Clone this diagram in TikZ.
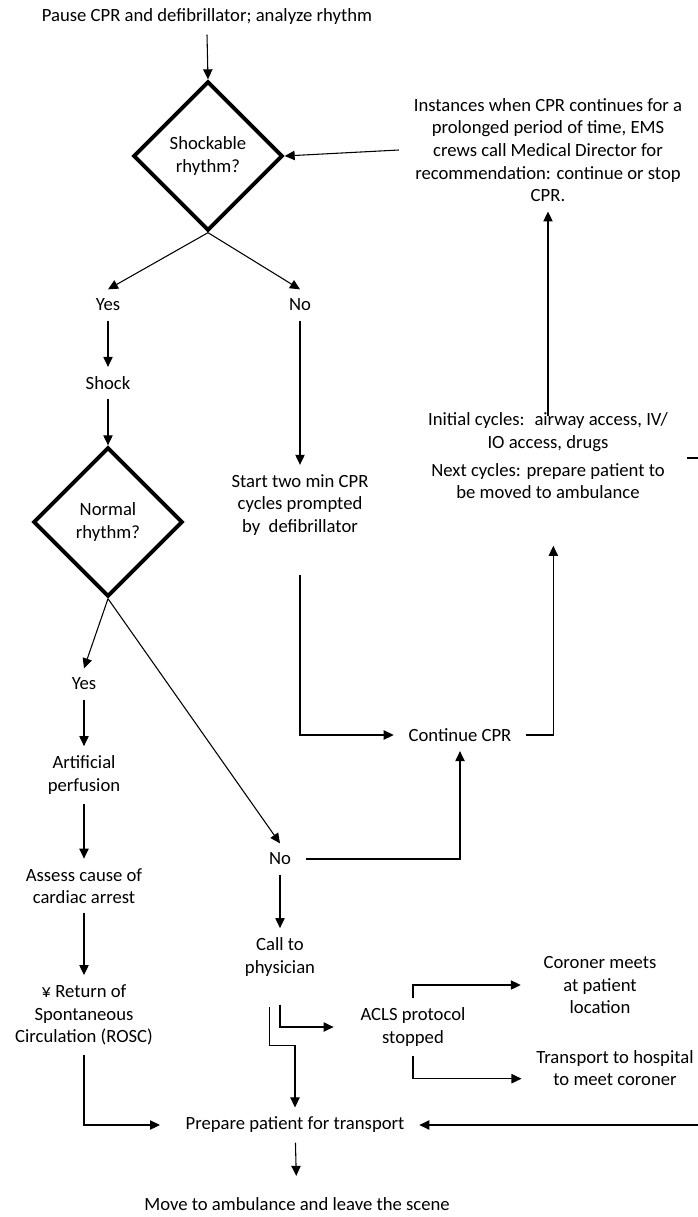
\documentclass[tikz,border=0pt]{standalone}
\usepackage{fontspec}
\setmainfont{Carlito}
\usetikzlibrary{arrows.meta,shapes.geometric}

\begin{document}
\begin{tikzpicture}[x=0.75pt, y=-0.75pt,
  every node/.style={font=\fontsize{14}{17}\selectfont},
  txt/.style={align=center, inner xsep=11pt, inner ysep=7pt},
  decision/.style={diamond, draw, line width=3pt, aspect=1, inner sep=0pt,
    minimum width=112pt, minimum height=112pt, align=center},
  arr/.style={-{Triangle[length=7.5pt,width=7pt]}, line width=0.8pt}]
  \useasboundingbox (0,0) rectangle (698,1217);

  % rhythm check
  \node[txt] (pause) at (207,17) {Pause CPR and defibrillator; analyze rhythm};
  \node[decision] (shockable) at (208,156) {Shockable\\rhythm?};
  \node[txt] (director) at (548,150) {Instances when CPR continues for a\\prolonged period of time, EMS\\crews call Medical Director for\\recommendation: continue or stop\\CPR.};
  \node[txt] (yesA) at (108,305) {Yes};
  \node[txt] (noA) at (300,305) {No};
  \node[txt] (shock) at (108,383) {Shock};
  \node[decision] (normal) at (108,522) {Normal\\rhythm?};
  \node[txt] (cycles) at (300,505) {Start two min CPR\\cycles prompted\\by \ defibrillator};

  % CPR loop
  \node[txt] (initial) at (548,432) {Initial cycles: \ airway access, IV/\\IO access, drugs};
  \node[txt] (next) at (548,481) {Next cycles: prepare patient to\\be moved to ambulance};
  \node[txt] (continue) at (460,735) {Continue CPR};

  % after the shock
  \node[txt] (yesB) at (84,684) {Yes};
  \node[txt] (perfusion) at (84,775) {Artificial\\perfusion};
  \node[txt] (assess) at (84,886) {Assess cause of\\cardiac arrest};
  \node[txt] (rosc) at (84,1015) {¥ Return of\\Spontaneous\\Circulation (ROSC)};
  \node[txt] (noB) at (280,859) {No};
  \node[txt] (physician) at (280,957) {Call to\\physician};
  \node[txt] (acls) at (413,1027) {ACLS protocol\\stopped};
  \node[txt] (coroner) at (600,985) {Coroner meets\\at patient\\location};
  \node[txt] (hospital) at (615,1068) {Transport to hospital\\to meet coroner};
  \node[txt] (prepare) at (295,1125) {Prepare patient for transport};
  \node[txt] (leave) at (297,1204) {Move to ambulance and leave the scene};
  \coordinate (offA) at (687,458);
  \coordinate (offB) at (698,458);
  \coordinate (offC) at (698,1125);

  \draw[arr] (pause.south) -- (shockable.north);
  \draw[arr] (director.west) -- (shockable.east);
  \draw[arr] (shockable.south) -- (yesA.north);
  \draw[arr] (shockable.south) -- (noA.north);
  \draw[arr] (yesA) -- (shock);
  \draw[arr] (shock) -- (normal);
  \draw[arr] (noA) -- (cycles);
  \draw[arr, shorten <=22pt] (cycles.south) |- (continue.west);
  \draw[arr, shorten >=28pt] (continue.east) -| ([xshift=4pt]next.south);
  \draw[arr, shorten <=-10pt] (initial.north) -- (director.south);
  \draw[arr] (noB.east) -| (continue.south);

  \draw[arr] (normal.south) -- (yesB.north);
  \draw[arr] (normal.south) -- (noB.north);
  \draw[arr] (yesB) -- (perfusion);
  \draw[arr] (perfusion) -- (assess);
  \draw[arr] (assess) -- (rosc);
  \draw[arr, shorten >=8pt] (rosc.south) |- (prepare.west);
  \draw[arr] (noB) -- (physician);
  \draw[arr, shorten <=14pt, shorten >=9pt] (physician.south) |- (acls.west);
  \draw[arr, shorten <=16pt] ([xshift=-8pt]physician.south) -- ++(0,60) -| (prepare.north);
  \draw[arr, shorten >=6pt] (acls.north) |- (coroner.west);
  \draw[arr] (acls.south) |- ([yshift=-8pt]hospital.west);
  \draw[arr] (offC) -- (prepare.east);
  \draw[arr, shorten >=9pt] (prepare) -- (leave);
  \draw[line width=0.8pt] (offA) -- (offB);
\end{tikzpicture}
\end{document}
